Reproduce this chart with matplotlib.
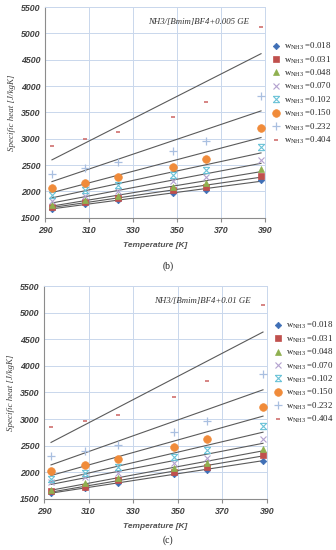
# Specific heat of NH3/[Bmim]BF4 + GE vs temperature, two panels (b) and (c)
import numpy as np
import matplotlib
matplotlib.use("Agg")
from matplotlib import pyplot as plt
from matplotlib.path import Path

T = [293.15, 308.15, 323.15, 348.15, 363.15, 388.15]
w_labels = ["0.018", "0.031", "0.048", "0.070", "0.102", "0.150", "0.232", "0.404"]

cp_b = [
    [1670, 1760, 1835, 1970, 2035, 2210],
    [1700, 1795, 1880, 2020, 2085, 2300],
    [1740, 1835, 1920, 2085, 2160, 2420],
    [1815, 1910, 2000, 2190, 2275, 2600],
    [1935, 2020, 2130, 2320, 2410, 2840],
    [2066, 2170, 2275, 2460, 2615, 3200],
    [2330, 2440, 2555, 2770, 2965, 3810],
    [2870, 2990, 3120, 3415, 3700, 5130],
]
cp_c = [
    [1606, 1700, 1805, 1970, 2045, 2220],
    [1640, 1730, 1845, 2010, 2105, 2330],
    [1675, 1790, 1890, 2075, 2170, 2440],
    [1810, 1905, 1995, 2180, 2275, 2620],
    [1875, 1980, 2090, 2295, 2420, 2860],
    [2030, 2140, 2250, 2470, 2625, 3230],
    [2305, 2390, 2510, 2750, 2970, 3840],
    [2845, 2955, 3080, 3410, 3710, 5150],
]
titles = ["NH3/[Bmim]BF4+0.005 GE", "NH3/[Bmim]BF4+0.01 GE"]
panel_tags = ["(b)", "(c)"]

# Excel-like star marker: an X with caps top and bottom
star = Path([(-1, -1), (1, 1), (-1, 1), (1, -1), (-1, 1), (1, 1), (-1, -1), (1, -1)],
            [Path.MOVETO, Path.LINETO] * 4)

styles = [
    dict(marker="D", color="#3F6FB6", ms=3.3),
    dict(marker="s", color="#C0504D", ms=4.5),
    dict(marker="^", color="#8FB04F", ms=4.8),
    dict(marker="x", color="#B3A2CF", ms=4.5, mew=0.8),
    dict(marker=star, color="#6CC3D8", ms=4.5, mew=0.8),
    dict(marker="o", color="#F08B3A", ms=5.5),
    dict(marker="+", color="#A9BFE0", ms=6, mew=0.9),
    dict(marker="_", color="#D0706E", ms=3.5, mew=1.2),
]

plt.rcParams["mathtext.fontset"] = "custom"
plt.rcParams["mathtext.rm"] = "Liberation Serif"

fig = plt.figure(figsize=(3.36, 5.5), dpi=100)
axes_boxes = [[0.134, 0.604, 0.655, 0.383], [0.131, 0.093, 0.664, 0.387]]
tag_y = [0.516, 0.018]

grid_c = "#C9D7EC"
tick_font = dict(family="Liberation Sans", style="italic", weight="bold", size=6.3)

for k, cp in enumerate([cp_b, cp_c]):
    ax = fig.add_axes(axes_boxes[k])
    for i, vals in enumerate(cp):
        st = styles[i]
        ax.plot(T, vals, linestyle="none", marker=st["marker"], color=st["color"],
                markersize=st["ms"], markeredgewidth=st.get("mew", 0.5),
                label=r"w$_{\mathregular{NH3}}$ =" + w_labels[i], zorder=3)
        # linear trend line like Excel's
        p = np.polyfit(T, vals, 1)
        xs = np.array([T[0], T[-1]])
        ax.plot(xs, np.polyval(p, xs), color="#5A5A5A", lw=0.8, zorder=2)
    ax.set_xlim(290, 390)
    ax.set_ylim(1500, 5500)
    ax.set_xticks(range(290, 391, 20))
    ax.set_yticks(range(1500, 5501, 500))
    ax.grid(True, color=grid_c, lw=0.7)
    ax.set_axisbelow(True)
    for s in ["top", "right"]:
        ax.spines[s].set_color(grid_c)
        ax.spines[s].set_linewidth(0.7)
    for s in ["left", "bottom"]:
        ax.spines[s].set_color("#8C8C8C")
        ax.spines[s].set_linewidth(0.8)
    ax.tick_params(axis="y", length=0, pad=3)
    ax.tick_params(axis="x", length=3, color="#8C8C8C", pad=3)
    for lab in ax.get_xticklabels() + ax.get_yticklabels():
        lab.set_fontfamily(tick_font["family"])
        lab.set_fontstyle(tick_font["style"])
        lab.set_fontweight(tick_font["weight"])
        lab.set_fontsize(tick_font["size"])
        lab.set_color("#404040")
    ax.set_xlabel("Temperature [K]", family="Liberation Sans", style="italic",
                  weight="bold", size=6, color="#505050", labelpad=5)
    ax.set_ylabel("Specific heat [J/kgK]", family="Liberation Serif", style="italic",
                  size=6.5, color="#404040", labelpad=4)
    ax.text(0.927, 0.93, titles[k], transform=ax.transAxes, ha="right", va="center",
            family="Liberation Serif", style="italic", size=6.3, color="#303030")
    ax.legend(loc="upper left", bbox_to_anchor=(1.0, 0.87), frameon=False,
              prop=dict(family="Liberation Serif", size=6.3), handlelength=1.0,
              handletextpad=0.5, labelspacing=0.22, borderaxespad=0.3,
              labelcolor="#202020")
    fig.text(0.5, tag_y[k], panel_tags[k], ha="center", va="center",
             family="Liberation Serif", size=7, color="#202020")

fig.savefig("out.png", dpi=100)
